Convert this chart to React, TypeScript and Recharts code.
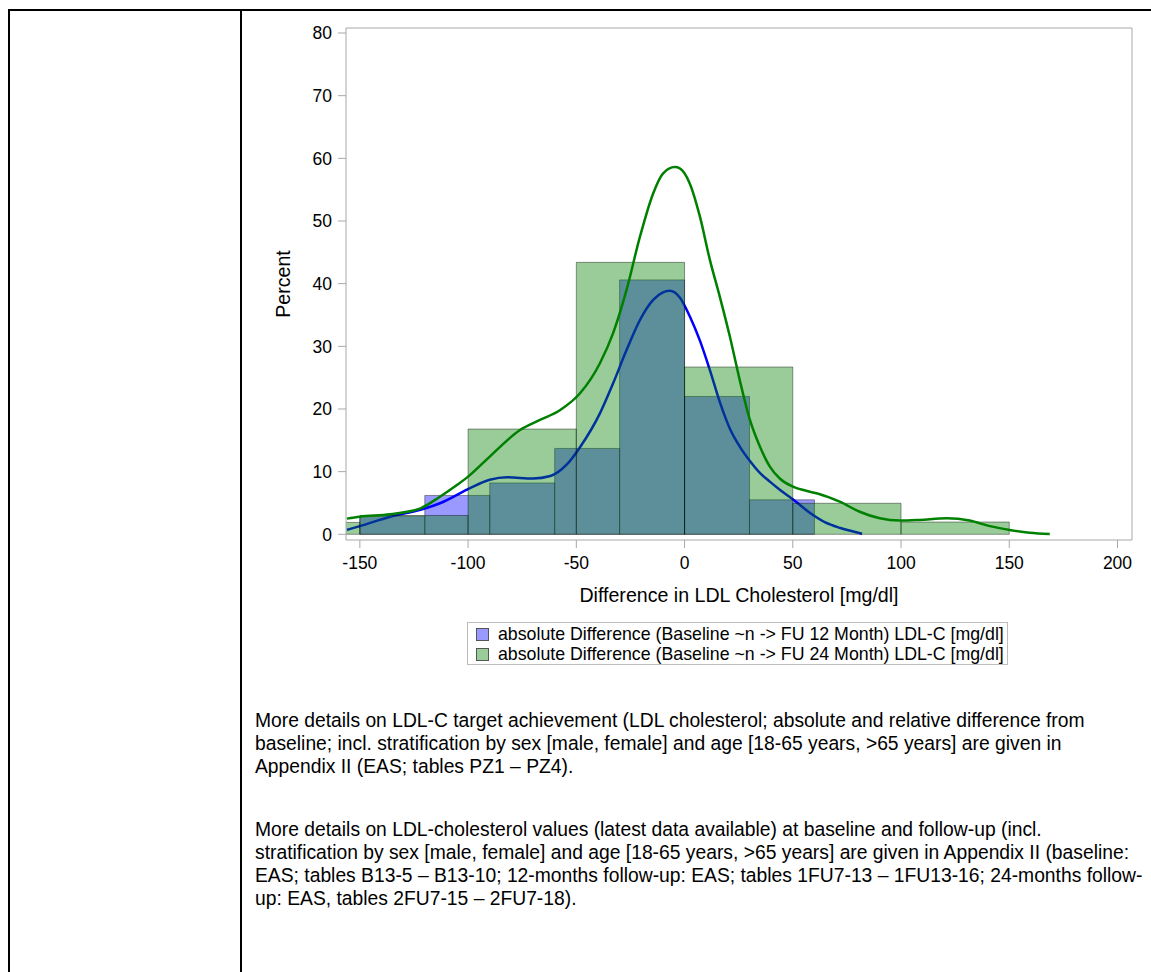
import React from 'react';
import { ComposedChart, Line, XAxis, YAxis, ReferenceArea, ReferenceLine, Label } from 'recharts';

const FONT = "'Liberation Sans', Arial, Helvetica, sans-serif";

// ---- Histogram: 12-month follow-up (blue), bins of width 30 ----
const blueBinStart = [-150, -120, -90, -60, -30, 0, 30];
const blueBinEnd = [-120, -90, -60, -30, 0, 30, 60];
const blueBinPercent = [2.9, 6.2, 8.2, 13.7, 40.6, 22.0, 5.5];

// ---- Histogram: 24-month follow-up (green), bins of width 50 ----
const greenBinStart = [-200, -150, -100, -50, 0, 50, 100];
const greenBinEnd = [-150, -100, -50, 0, 50, 100, 150];
const greenBinPercent = [1.9, 3.0, 16.8, 43.4, 26.7, 4.95, 1.96];

// ---- Kernel density curve, 12 months ----
const blueCurveX = [-156, -150, -136, -122, -113, -100, -90, -82, -70, -62, -54.5, -48.3, -39.1, -33, -26.8, -20.6, -14.5, -10, -6.8, -2.2, 2.4, 7.1, 11.7, 16.3, 20.9, 25.5, 30.2, 34.8, 39.4, 44, 50, 58, 65, 72, 82];
const blueCurveY = [0.7, 1.3, 2.8, 3.9, 4.95, 7.2, 8.7, 9.1, 8.9, 9.3, 11.1, 13.9, 19.3, 24.1, 29.4, 34.2, 37.4, 38.6, 38.85, 37.8, 34.8, 30.9, 26.2, 21.1, 16.9, 14.0, 11.7, 9.8, 8.4, 7.1, 5.6, 3.4, 1.9, 1.0, 0.1];

// ---- Kernel density curve, 24 months ----
const greenCurveX = [-156, -150, -136, -122, -113, -105, -100, -90, -76, -66.8, -57.6, -48.3, -39.1, -33, -26.8, -20.6, -14.5, -9.9, -4.5, -2.2, 2.4, 7.1, 11.7, 16.3, 20.9, 25.5, 30.2, 34.8, 39.4, 44, 50.1, 57.9, 62.5, 71.7, 80.9, 90.2, 99.4, 108.6, 121, 131.7, 141, 150.2, 159.4, 168.7];
const greenCurveY = [2.5, 2.8, 3.2, 4.15, 6.0, 7.9, 9.2, 12.4, 16.65, 18.25, 19.8, 22.5, 27.3, 32.1, 39.0, 47.5, 54.4, 57.6, 58.6, 58.4, 56.0, 50.7, 43.8, 37.9, 31.6, 24.6, 18.25, 14.0, 10.8, 8.9, 7.6, 6.8, 6.4, 5.2, 3.6, 2.55, 2.2, 2.3, 2.55, 2.2, 1.3, 0.7, 0.26, 0.05];

const xTicks = [-150, -100, -50, 0, 50, 100, 150, 200];
const yTicks = [0, 10, 20, 30, 40, 50, 60, 70, 80];
const xDomain: [number, number] = [-156.4, 206.7];
const yDomain: [number, number] = [-0.91, 80.8];

const xTitle = 'Difference in LDL Cholesterol [mg/dl]';
const yTitle = 'Percent';
const seriesNames = [
  'absolute Difference (Baseline ~n -> FU 12 Month) LDL-C [mg/dl]',
  'absolute Difference (Baseline ~n -> FU 24 Month) LDL-C [mg/dl]',
];

const paragraph1 = [
  'More details on LDL-C target achievement (LDL cholesterol; absolute and relative difference from',
  'baseline; incl. stratification by sex [male, female] and age [18-65 years, >65 years] are given in',
  'Appendix II (EAS; tables PZ1 \u2013 PZ4).',
];
const paragraph2 = [
  'More details on LDL-cholesterol values (latest data available) at baseline and follow-up (incl.',
  'stratification by sex [male, female] and age [18-65 years, >65 years] are given in Appendix II (baseline:',
  'EAS; tables B13-5 \u2013 B13-10; 12-months follow-up: EAS; tables 1FU7-13 \u2013 1FU13-16; 24-months follow-',
  'up: EAS, tables 2FU7-15 \u2013 2FU7-18).',
];

const blueCurve = blueCurveX.map((x, i) => ({ x, y: blueCurveY[i] }));
const greenCurve = greenCurveX.map((x, i) => ({ x, y: greenCurveY[i] }));

const BLUE = '#0000ff';
const GREEN = '#008000';
const FRAME = '#a8a8a8';

export default function App() {
  const tickStyle = { fill: '#000', fontSize: 17.5, fontFamily: FONT };
  const titleStyle = { fill: '#000', fontSize: 19.6, fontFamily: FONT };
  return (
    <div style={{ position: 'absolute', left: 0, top: 0, width: 1151, height: 972, overflow: 'hidden', background: '#fff', fontFamily: FONT }}>
      {/* table borders */}
      <div style={{ position: 'absolute', left: 8, top: 9, width: 1143, height: 2, background: '#000' }} />
      <div style={{ position: 'absolute', left: 8, top: 9, width: 2, height: 963, background: '#000' }} />
      <div style={{ position: 'absolute', left: 240, top: 9, width: 2, height: 963, background: '#000' }} />

      <div style={{ position: 'absolute', left: 0, top: 0 }}>
        <ComposedChart width={1151} height={610} margin={{ top: 28, right: 19, left: 246, bottom: 0 }}>
          <XAxis
            dataKey="x"
            type="number"
            domain={xDomain}
            allowDataOverflow
            ticks={xTicks}
            height={70}
            tickSize={8}
            tickMargin={9}
            tick={tickStyle}
            tickLine={{ stroke: FRAME }}
            axisLine={{ stroke: FRAME }}
          >
            <Label value={xTitle} position="insideBottom" offset={8} style={titleStyle} />
          </XAxis>
          <YAxis
            type="number"
            domain={yDomain}
            allowDataOverflow
            ticks={yTicks}
            width={100}
            tickSize={8}
            tickMargin={6}
            tick={tickStyle}
            tickLine={{ stroke: FRAME }}
            axisLine={{ stroke: FRAME }}
          >
            <Label value={yTitle} angle={-90} position="insideLeft" offset={37} style={{ ...titleStyle, textAnchor: 'middle' }} />
          </YAxis>

          {blueBinStart.map((s, i) => (
            <ReferenceArea
              key={`b${i}`}
              x1={s}
              x2={blueBinEnd[i]}
              y1={0}
              y2={blueBinPercent[i]}
              fill={BLUE}
              fillOpacity={0.4}
              stroke="#000"
              strokeOpacity={0.4}
              strokeWidth={1}
              ifOverflow="hidden"
              zIndex={410}
            />
          ))}
          <Line
            data={blueCurve}
            dataKey="y"
            type="monotone"
            stroke={BLUE}
            strokeWidth={2.5}
            dot={false}
            activeDot={false}
            isAnimationActive={false}
            zIndex={420}
          />
          {greenBinStart.map((s, i) => (
            <ReferenceArea
              key={`g${i}`}
              x1={s}
              x2={greenBinEnd[i]}
              y1={0}
              y2={greenBinPercent[i]}
              fill={GREEN}
              fillOpacity={0.4}
              stroke="#000"
              strokeOpacity={0.4}
              strokeWidth={1}
              ifOverflow="hidden"
              zIndex={430}
            />
          ))}
          <Line
            data={greenCurve}
            dataKey="y"
            type="monotone"
            stroke={GREEN}
            strokeWidth={2.5}
            dot={false}
            activeDot={false}
            isAnimationActive={false}
            zIndex={440}
          />
          {/* plot frame: top and right edges */}
          <ReferenceLine y={yDomain[1]} stroke={FRAME} strokeWidth={1} ifOverflow="visible" zIndex={450} />
          <ReferenceLine x={xDomain[1]} stroke={FRAME} strokeWidth={1} ifOverflow="visible" zIndex={450} />
        </ComposedChart>
      </div>

      {/* legend */}
      <div style={{ position: 'absolute', left: 467, top: 622, width: 541, height: 43, border: '1px solid #bdbdbd', boxSizing: 'border-box' }}>
        {seriesNames.map((name, i) => (
          <div key={name} style={{ position: 'absolute', left: 8, top: 1 + i * 20, height: 20, display: 'flex', alignItems: 'center', whiteSpace: 'nowrap' }}>
            <div style={{ width: 11, height: 11, border: '1px solid #555', background: i === 0 ? '#9999ff' : '#99cc99', marginRight: 9 }} />
            <span style={{ fontSize: 17.75, color: '#000' }}>{name}</span>
          </div>
        ))}
      </div>

      {/* paragraphs */}
      {paragraph1.map((line, i) => (
        <div key={`p1${i}`} style={{ position: 'absolute', left: 255, top: 709 + i * 23, lineHeight: '23px', fontSize: 19.3, whiteSpace: 'nowrap', color: '#000' }}>{line}</div>
      ))}
      {paragraph2.map((line, i) => (
        <div key={`p2${i}`} style={{ position: 'absolute', left: 255, top: 818 + i * 23, lineHeight: '23px', fontSize: 19.3, whiteSpace: 'nowrap', color: '#000' }}>{line}</div>
      ))}
    </div>
  );
}
